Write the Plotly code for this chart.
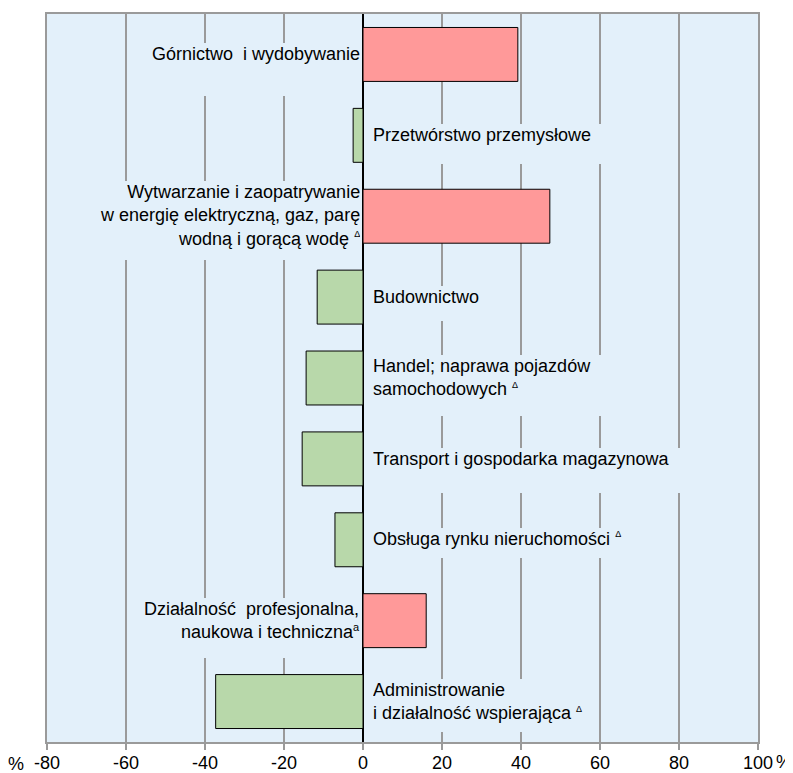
import re
import plotly.graph_objects as go

# ---- data ----
categories = [
    "Górnictwo\u00a0 i wydobywanie",
    "Przetwórstwo przemysłowe",
    "Wytwarzanie i zaopatrywanie<br>w energię elektryczną, gaz, parę<br>wodną i gorącą wodę <sup><span style=\"font-size:9px\">Δ</span></sup>",
    "Budownictwo",
    "Handel; naprawa pojazdów<br>samochodowych <sup><span style=\"font-size:9px\">Δ</span></sup>",
    "Transport i gospodarka magazynowa",
    "Obsługa rynku nieruchomości <sup><span style=\"font-size:9px\">Δ</span></sup>",
    "Działalność\u00a0 profesjonalna,<br>naukowa i techniczna<sup><span style=\"font-size:11px\">a</span></sup>",
    "Administrowanie<br>i działalność wspierająca <sup><span style=\"font-size:9px\">Δ</span></sup>",
]
values = [39.2, -2.5, 47.3, -11.6, -14.4, -15.4, -7.1, 16.0, -37.3]
tick_values = [-80, -60, -40, -20, 0, 20, 40, 60, 80, 100]
tick_labels = ["-80", "-60", "-40", "-20", "0", "20", "40", "60", "80", "100"]

# ---- styles ----
BG = "#E3F0FA"
POS = "#FF9999"
NEG = "#B8D8AA"
GRID = "#9A9A9A"
FONT = "Liberation Sans, Arial, sans-serif"
FS = 18
PAD = 1
# how far (px) the label's background box reaches below the category centre
box_below = [42, 29, 44, 24, 38, 34, 19, 37, 30]
# extra blank room on the outer side of each label box (non-breaking spaces)
EXTRA = "\u00a0\u00a0\u00a0"

# page body adds an 8px offset; compensate so the plot sits where the reference has it
OFF = 8
W, H = 793 - OFF, 773 - OFF

ids = list(range(len(categories)))

fig = go.Figure()
fig.add_trace(go.Bar(
    y=ids, x=values, orientation="h", width=0.667,
    marker=dict(color=[POS if v > 0 else NEG for v in values],
                line=dict(color="black", width=1)),
    hoverinfo="skip", showlegend=False,
))


def padded(label, positive):
    lines = label.split("<br>")
    plain = [len(re.sub(r"<[^>]+>", "", l)) for l in lines]
    k = plain.index(max(plain))
    lines[k] = (EXTRA + lines[k]) if positive else (lines[k] + EXTRA)
    return "<br>".join(lines)


annotations = []
for i, (lab, v) in enumerate(zip(categories, values)):
    n = lab.count("<br>") + 1
    above = PAD + (20.7 + (n - 1) * 23.4) / 2
    if v > 0:
        xanchor, align, xshift = "right", "right", -2
    else:
        xanchor, align, xshift = "left", "left", 9
    annotations.append(dict(
        x=0, y=i, xref="x", yref="y", text=padded(lab, v > 0), showarrow=False,
        xanchor=xanchor, yanchor="top", valign="top", align=align, xshift=xshift,
        yshift=above, height=above + box_below[i] - 2 * PAD,
        bgcolor=BG, borderpad=PAD, borderwidth=0,
        font=dict(family=FONT, size=FS, color="black"),
    ))

annotations.append(dict(x=-0.0436, y=-0.030, xref="paper", yref="paper", text="%",
                        showarrow=False, xanchor="center", yanchor="middle",
                        font=dict(family=FONT, size=FS, color="black")))
annotations.append(dict(x=1.0366, y=-0.028, xref="paper", yref="paper", text="%",
                        showarrow=False, xanchor="center", yanchor="middle",
                        font=dict(family=FONT, size=FS, color="black")))

fig.update_layout(
    width=W, height=H,
    margin=dict(l=47 - OFF, r=35, t=14 - OFF, b=31, autoexpand=False),
    paper_bgcolor="white", plot_bgcolor=BG,
    font=dict(family=FONT, size=FS, color="black"),
    annotations=annotations,
    xaxis=dict(
        range=[-80, 100], tickvals=tick_values, ticktext=tick_labels,
        showgrid=True, gridcolor=GRID, gridwidth=1.5,
        zeroline=True, zerolinecolor="black", zerolinewidth=2,
        showline=True, linecolor=GRID, linewidth=2, mirror=True,
        ticks="outside", ticklen=6, tickwidth=2, tickcolor=GRID,
        ticklabelstandoff=-3,
        tickfont=dict(family=FONT, size=FS, color="black"),
        automargin=False, fixedrange=True,
    ),
    yaxis=dict(
        range=[len(categories) - 0.5, -0.5],
        showticklabels=False, showgrid=False, zeroline=False,
        showline=True, linecolor=GRID, linewidth=2, mirror=True,
        ticks="", automargin=False, fixedrange=True,
    ),
)

fig.write_html("out.html")
